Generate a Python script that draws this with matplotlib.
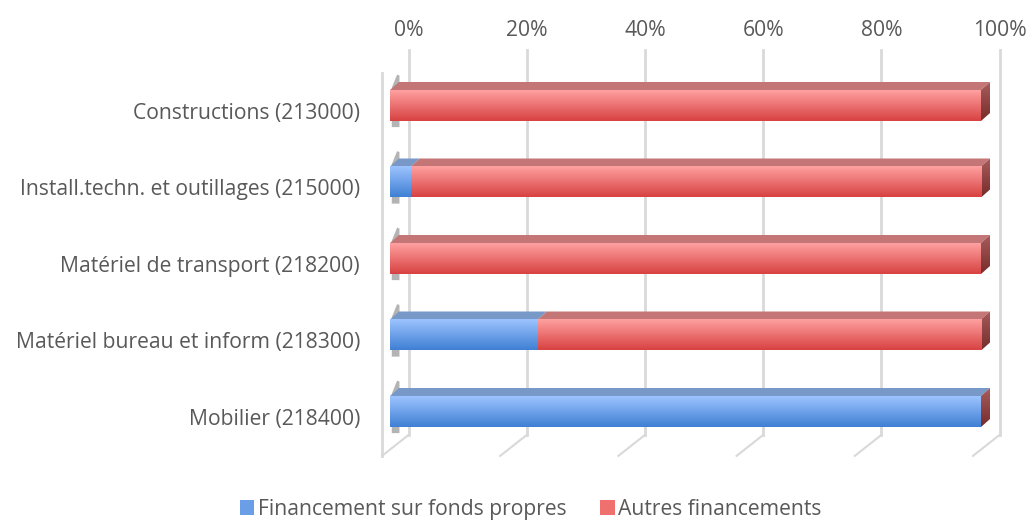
import numpy as np
import matplotlib
matplotlib.use("Agg")
import matplotlib.pyplot as plt
from matplotlib.patches import Polygon, Patch

# data
categories = ["Constructions (213000)", "Install.techn. et outillages (215000)",
              "Matériel de transport (218200)", "Matériel bureau et inform (218300)",
              "Mobilier (218400)"]
fonds_propres = [0.0, 3.5, 0.0, 25.0, 100.0]
autres = [100.0, 96.5, 100.0, 75.0, 0.0]
series_names = ["Financement sur fonds propres", "Autres financements"]
ticks = [0, 20, 40, 60, 80, 100]

plt.rcParams['font.family'] = ['Open Sans', 'DejaVu Sans']
TXT = '#595959'
GRID = '#d9d9d9'
FS = 15.2

# pseudo-3D geometry (data units)
SX, SY = 5.91, 76.5          # px per % and px per category
H = 31 / SY                  # bar height
DX, DY = 9 / SX, 8 / SY      # bar depth
BX = 18.5 / SX               # back wall offset
FX = -8 / SX                 # front floor offset
WALL_TOP, WALL_BOT, FLOOR = -0.725, 4.307, 4.58

# face colours
front = {0: ('#9cc3ff', '#4080d4'), 1: ('#ffa0a0', '#d84242')}
top_c = {0: '#7898c8', 1: '#c47676'}
side_c = ('#a85c5c', '#772c2c')


def grad(c1, c2, n=64):
    a = np.array(matplotlib.colors.to_rgb(c1))
    b = np.array(matplotlib.colors.to_rgb(c2))
    t = np.linspace(0, 1, n)[:, None, None]
    return a * (1 - t) + b * t


fig = plt.figure(figsize=(10.30, 5.22), dpi=100)
ax = fig.add_axes([0, 0, 1, 1])
ax.set_autoscale_on(False)
ax.set_xlim(-390 / SX, (1030 - 390) / SX)
ax.set_ylim((522 - 105.5) / SY, -105.5 / SY)
ax.axis('off')

# walls and gridlines
for v in ticks:
    ax.plot([v + BX, v + BX], [WALL_TOP, WALL_BOT], color=GRID, lw=2, zorder=1)
    ax.plot([v + BX, v + FX], [WALL_BOT, FLOOR], color=GRID, lw=1.5, zorder=1)
    ax.text(v + BX, -0.98, f"{v}%", ha='center', va='center', fontsize=FS, color=TXT)
ax.plot([FX, FX], [-0.425, FLOOR], color=GRID, lw=2, zorder=1)

for i, cat in enumerate(categories):
    yt, yb = i - H / 2, i + H / 2
    # shadow on the left wall
    sh = Polygon([(0.3, yt - 0.03), (1.2, yt - 0.2), (1.6, yt - 0.19), (1.6, yb + 0.08), (0.3, yb + 0.08)],
                 closed=True, facecolor='#6a6a6a', alpha=0.5, edgecolor='none', zorder=2)
    ax.add_patch(sh)
    left = 0.0
    for s, vals in enumerate([fonds_propres, autres]):
        w = vals[i]
        if w > 0:
            x0, x1 = left, left + w
            ax.imshow(grad(*front[s]), extent=(x0, x1, yb, yt), origin='upper',
                      aspect='auto', interpolation='bilinear', zorder=4)
            ax.add_patch(Polygon([(x0, yt), (x1, yt), (x1 + DX, yt - DY), (x0 + DX, yt - DY)],
                                 closed=True, facecolor=top_c[s], edgecolor='none', zorder=3))
        left += w
    # right end face
    sp = Polygon([(left, yt), (left + DX, yt - DY), (left + DX, yb - DY), (left, yb)],
                 closed=True, facecolor='none', edgecolor='none', transform=ax.transData)
    ax.add_patch(sp)
    im = ax.imshow(grad(*side_c), extent=(left, left + DX, yb, yt - DY), origin='upper',
                   aspect='auto', interpolation='bilinear', zorder=3)
    im.set_clip_path(sp)
    ax.text(-5.08, i + 0.1, cat, ha='right', va='center', fontsize=FS, color=TXT)

handles = [Patch(facecolor='#6a9fe8', edgecolor='none'), Patch(facecolor='#f07070', edgecolor='none')]
fig.legend(handles, series_names, loc='lower center', bbox_to_anchor=(0.515, -0.032), ncol=2,
           frameon=False, fontsize=FS, labelcolor=TXT, handlelength=0.7, handleheight=0.7,
           handletextpad=0.15, columnspacing=1.6)

fig.savefig('out.png', dpi=100)
